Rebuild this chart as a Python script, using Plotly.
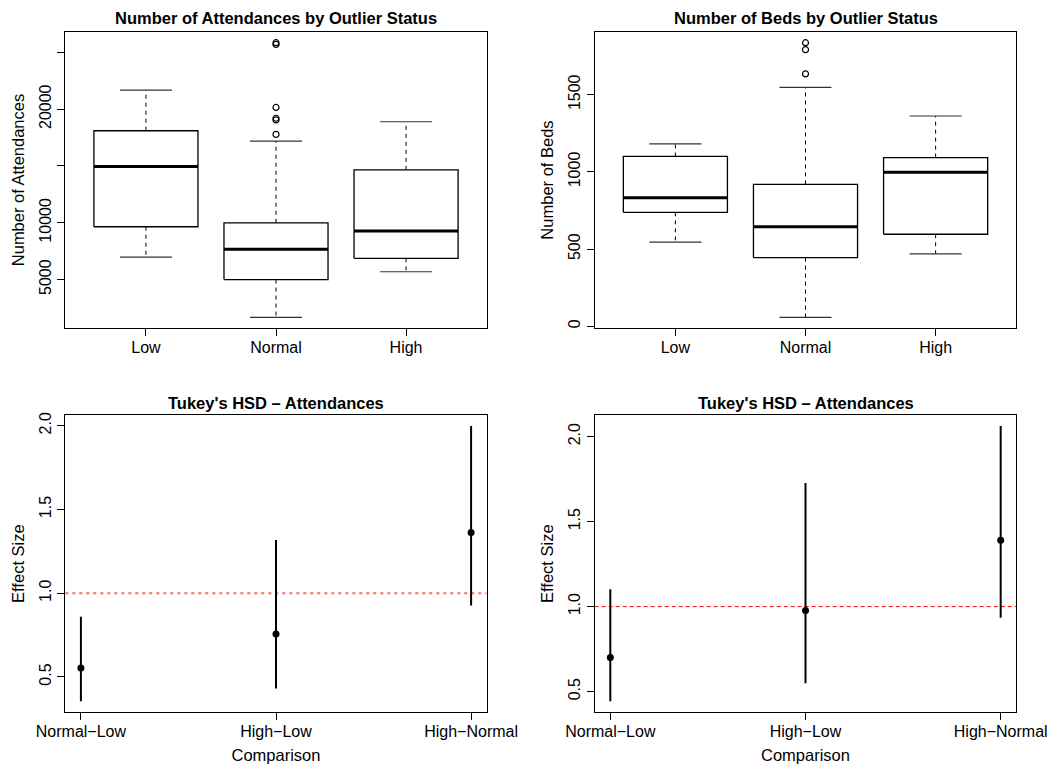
import plotly.graph_objects as go

groups = ["Low", "Normal", "High"]

# Attendances box statistics
att_lower = [6980, 1680, 5690]
att_q1 = [9650, 5000, 6870]
att_median = [14960, 7660, 9270]
att_q3 = [18100, 10000, 14660]
att_upper = [21680, 17190, 18890]
att_out_x = ["Normal", "Normal", "Normal", "Normal", "Normal", "Normal"]
att_out_y = [25700, 25850, 20150, 19050, 19200, 17780]

# Beds box statistics
bed_lower = [545, 58, 469]
bed_q1 = [738, 445, 596]
bed_median = [833, 645, 998]
bed_q3 = [1100, 919, 1093]
bed_upper = [1181, 1547, 1362]
bed_out_x = ["Normal", "Normal", "Normal"]
bed_out_y = [1837, 1792, 1635]

# Tukey HSD
comparisons = ["Normal\u2212Low", "High\u2212Low", "High\u2212Normal"]
tk1_est = [0.554, 0.756, 1.363]
tk1_lwr = [0.355, 0.431, 0.927]
tk1_upr = [0.859, 1.317, 1.998]
tk2_est = [0.701, 0.977, 1.391]
tk2_lwr = [0.443, 0.549, 0.934]
tk2_upr = [1.102, 1.727, 2.0625]

FONT = "Liberation Sans, Arial, Helvetica, sans-serif"
fig = go.Figure()

dom_x = [[65.3 / 1064, 486.7 / 1064], [594.7 / 1064, 1016.3 / 1064]]
dom_y_top = [1 - 328.3 / 765, 1 - 31.7 / 765]
dom_y_bot = [1 - 712.3 / 765, 1 - 415 / 765]


def boxes(xa, ya, lower, q1, med, q3, upper, out_x, out_y):
    pos = {g: i + 1 for i, g in enumerate(groups)}
    for i in range(len(groups)):
        c = i + 1
        fig.add_trace(go.Scatter(x=[c, c, None, c, c], y=[q3[i], upper[i], None, q1[i], lower[i]],
                                 mode="lines", line=dict(color="black", width=1, dash="4px,4px"),
                                 xaxis=xa, yaxis=ya, showlegend=False, hoverinfo="skip"))
        fig.add_trace(go.Scatter(x=[c - 0.2, c + 0.2, None, c - 0.2, c + 0.2],
                                 y=[upper[i], upper[i], None, lower[i], lower[i]],
                                 mode="lines", line=dict(color="#333", width=1.2),
                                 xaxis=xa, yaxis=ya, showlegend=False, hoverinfo="skip"))
        fig.add_trace(go.Scatter(x=[c - 0.4, c + 0.4, c + 0.4, c - 0.4, c - 0.4],
                                 y=[q1[i], q1[i], q3[i], q3[i], q1[i]],
                                 mode="lines", line=dict(color="black", width=1.3),
                                 fill="toself", fillcolor="white",
                                 xaxis=xa, yaxis=ya, showlegend=False, hoverinfo="skip"))
        fig.add_trace(go.Scatter(x=[c - 0.4, c + 0.4], y=[med[i], med[i]],
                                 mode="lines", line=dict(color="black", width=3),
                                 xaxis=xa, yaxis=ya, showlegend=False, hoverinfo="skip"))
    fig.add_trace(go.Scatter(x=[pos[g] for g in out_x], y=out_y, mode="markers",
                             marker=dict(symbol="circle-open", size=6, color="black",
                                         line=dict(width=1.2, color="black")),
                             xaxis=xa, yaxis=ya, showlegend=False, hoverinfo="skip"))


def tukey(xa, ya, est, lwr, upr):
    for i in range(len(comparisons)):
        c = i + 1
        fig.add_trace(go.Scatter(x=[c, c], y=[lwr[i], upr[i]], mode="lines",
                                 line=dict(color="black", width=2),
                                 xaxis=xa, yaxis=ya, showlegend=False, hoverinfo="skip"))
    fig.add_trace(go.Scatter(x=[1, 2, 3], y=est, mode="markers",
                             marker=dict(symbol="circle", size=7, color="black"),
                             xaxis=xa, yaxis=ya, showlegend=False, hoverinfo="skip"))


boxes("x", "y", att_lower, att_q1, att_median, att_q3, att_upper, att_out_x, att_out_y)
boxes("x2", "y2", bed_lower, bed_q1, bed_median, bed_q3, bed_upper, bed_out_x, bed_out_y)

fig.add_trace(go.Scatter(x=[0.92, 3.08], y=[1, 1], mode="lines",
                         line=dict(color="#FF6666", width=2, dash="3px,4px"),
                         xaxis="x3", yaxis="y3", showlegend=False, hoverinfo="skip"))
fig.add_trace(go.Scatter(x=[0.92, 3.08], y=[1, 1], mode="lines",
                         line=dict(color="#FF0000", width=1, dash="4px,3px"),
                         xaxis="x4", yaxis="y4", showlegend=False, hoverinfo="skip"))
tukey("x3", "y3", tk1_est, tk1_lwr, tk1_upr)
tukey("x4", "y4", tk2_est, tk2_lwr, tk2_upr)

axis_common = dict(showline=True, mirror=True, linecolor="black", linewidth=1.2,
                   ticks="outside", ticklen=7, tickcolor="black", tickwidth=1,
                   showgrid=False, zeroline=False, automargin=False,
                   tickfont=dict(family=FONT, size=16, color="black"))

def rng(lo, hi):
    d = (hi - lo) * 0.04
    return [lo - d, hi + d]

att_all = att_lower + att_upper + att_out_y
bed_all = bed_lower + bed_upper + bed_out_y
tk1_all = tk1_lwr + tk1_upr
tk2_all = tk2_lwr + tk2_upr

yt_font = dict(family=FONT, size=16.5, color="black")

fig.update_layout(
    width=1064, height=765, margin=dict(l=0, r=0, t=0, b=0, autoexpand=False),
    paper_bgcolor="white", plot_bgcolor="white",
    font=dict(family=FONT, size=16, color="black"),
    xaxis=dict(domain=dom_x[0], anchor="y", range=[0.38, 3.62], tickvals=[1, 2, 3],
               ticktext=groups, ticklabelstandoff=-3, **axis_common),
    yaxis=dict(domain=dom_y_top, anchor="x", range=rng(min(att_all), max(att_all)),
               tickvals=[5000, 10000, 15000, 20000, 25000],
               ticktext=["5000", "10000", "", "20000", ""], tickangle=-90,
               title=dict(text="Number of Attendances", standoff=8, font=yt_font), **axis_common),
    xaxis2=dict(domain=dom_x[1], anchor="y2", range=[0.38, 3.62], tickvals=[1, 2, 3],
                ticktext=groups, ticklabelstandoff=-3, **axis_common),
    yaxis2=dict(domain=dom_y_top, anchor="x2", range=rng(min(bed_all), max(bed_all)),
                tickvals=[0, 500, 1000, 1500], tickangle=-90,
                title=dict(text="Number of Beds", standoff=8, font=yt_font), **axis_common),
    xaxis3=dict(domain=dom_x[0], anchor="y3", range=[0.92, 3.08], tickvals=[1, 2, 3],
                ticktext=comparisons, ticklabelstandoff=-3,
                title=dict(text="Comparison", standoff=10, font=yt_font), **axis_common),
    yaxis3=dict(domain=dom_y_bot, anchor="x3", range=rng(min(tk1_all), max(tk1_all)),
                tickvals=[0.5, 1.0, 1.5, 2.0], ticktext=["0.5", "1.0", "1.5", "2.0"],
                tickangle=-90, title=dict(text="Effect Size", standoff=8, font=yt_font), **axis_common),
    xaxis4=dict(domain=dom_x[1], anchor="y4", range=[0.92, 3.08], tickvals=[1, 2, 3],
                ticktext=comparisons, ticklabelstandoff=-3,
                title=dict(text="Comparison", standoff=10, font=yt_font), **axis_common),
    yaxis4=dict(domain=dom_y_bot, anchor="x4", range=rng(min(tk2_all), max(tk2_all)),
                tickvals=[0.5, 1.0, 1.5, 2.0], ticktext=["0.5", "1.0", "1.5", "2.0"],
                tickangle=-90, title=dict(text="Effect Size", standoff=8, font=yt_font), **axis_common),
)

titles = [
    ("Number of Attendances by Outlier Status", (dom_x[0][0] + dom_x[0][1]) / 2, 1 - 17.7 / 765),
    ("Number of Beds by Outlier Status", (dom_x[1][0] + dom_x[1][1]) / 2, 1 - 17.7 / 765),
    ("Tukey's HSD \u2013 Attendances", (dom_x[0][0] + dom_x[0][1]) / 2, 1 - 402.7 / 765),
    ("Tukey's HSD \u2013 Attendances", (dom_x[1][0] + dom_x[1][1]) / 2, 1 - 402.7 / 765),
]
for t, x, y in titles:
    fig.add_annotation(text="<b>" + t + "</b>", x=x, y=y, xref="paper", yref="paper",
                       showarrow=False, xanchor="center", yanchor="middle",
                       font=dict(family=FONT, size=16.5, color="black"))

fig.write_html("out.html", config={"displayModeBar": False},
               post_script="document.body.style.margin='0';")
